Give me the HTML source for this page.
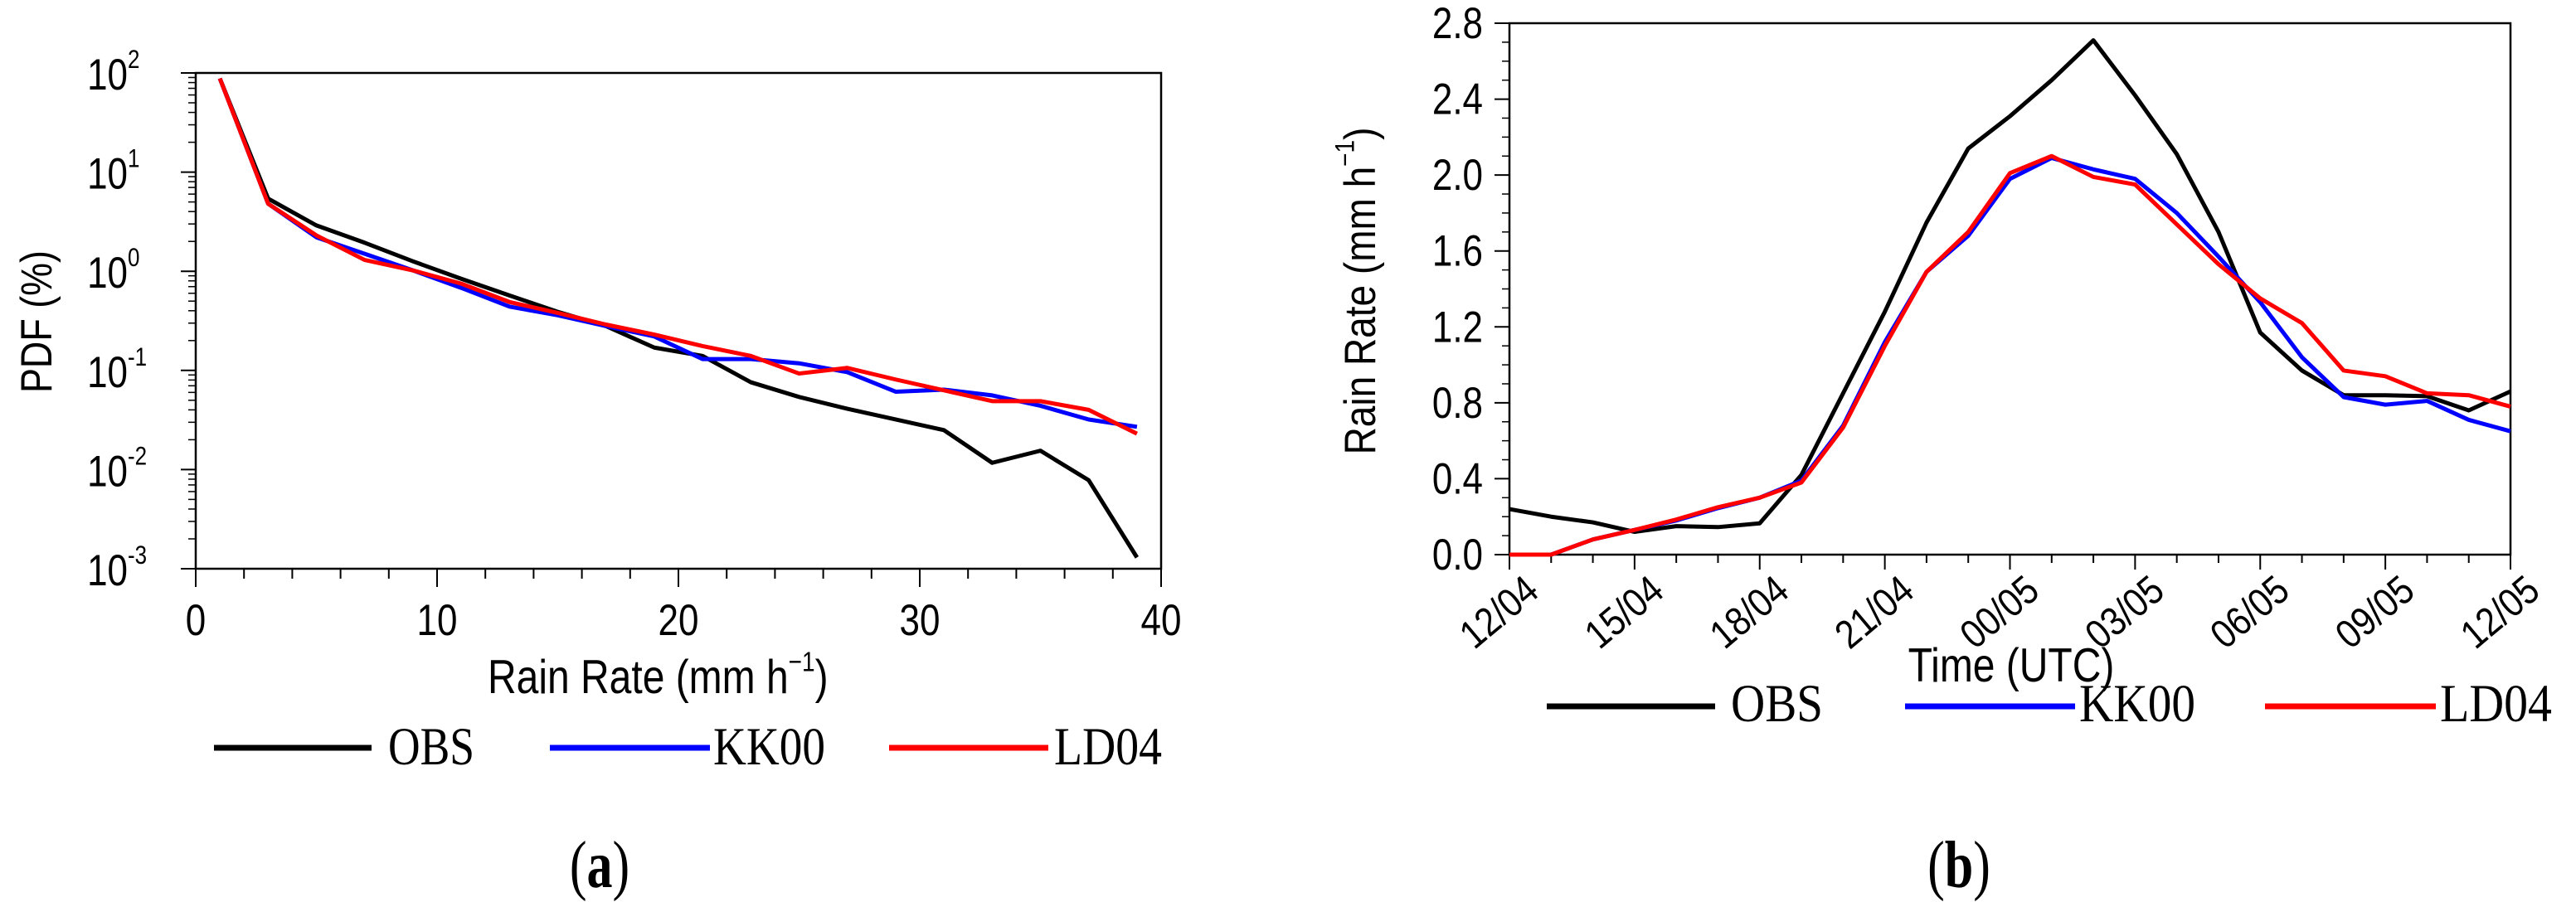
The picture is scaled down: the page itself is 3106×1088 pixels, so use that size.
<!DOCTYPE html>
<html><head><meta charset="utf-8"><style>html,body{margin:0;padding:0;background:#fff}svg{display:block}</style></head>
<body>
<svg id="fig" width="3106" height="1088" viewBox="0 0 3106 1088" xmlns="http://www.w3.org/2000/svg" font-family="Liberation Sans, sans-serif">
<g id="ga"></g>
<g id="gb"></g>
</svg>
<script>
const pdfX = [1,3,5,7,9,11,13,15,17,19,21,23,25,27,29,31,33,35,37,39];
const pdfOBS = [88,5.4,2.9,1.94,1.26,0.84,0.57,0.39,0.28,0.17,0.14,0.076,0.054,0.041,0.032,0.025,0.0117,0.0155,0.0078,0.0013];
const pdfKK00 = [88,4.8,2.2,1.5,1.02,0.68,0.44,0.36,0.28,0.22,0.13,0.13,0.118,0.096,0.061,0.064,0.056,0.044,0.032,0.027];
const pdfLD04 = [88,4.8,2.3,1.3,1.02,0.75,0.49,0.38,0.29,0.23,0.176,0.14,0.093,0.106,0.081,0.063,0.049,0.049,0.040,0.023];
const pdfXTicks = [0,10,20,30,40];
const pdfYExp = [2,1,0,-1,-2,-3];

const tsLabels = ["12/04","15/04","18/04","21/04","00/05","03/05","06/05","09/05","12/05"];
const tsOBS = [0.24,0.2,0.17,0.12,0.15,0.145,0.165,0.42,0.85,1.28,1.75,2.14,2.31,2.5,2.71,2.42,2.11,1.7,1.17,0.97,0.84,0.84,0.835,0.76,0.86];
const tsKK00 = [0,0,0.08,0.13,0.18,0.245,0.3,0.39,0.68,1.12,1.49,1.68,1.98,2.09,2.03,1.98,1.8,1.57,1.33,1.04,0.83,0.79,0.81,0.71,0.65];
const tsLD04 = [0,0,0.08,0.13,0.185,0.25,0.3,0.38,0.67,1.1,1.49,1.7,2.01,2.1,1.99,1.95,1.74,1.53,1.35,1.22,0.97,0.94,0.85,0.84,0.78];
const tsYTicks = [0.0,0.4,0.8,1.2,1.6,2.0,2.4,2.8];

const NS="http://www.w3.org/2000/svg";
function mk(parent,tag,attrs,txt){const e=document.createElementNS(NS,tag);for(const k in attrs)e.setAttribute(k,attrs[k]);if(txt!==undefined)e.textContent=txt;parent.appendChild(e);return e;}
function T(parent,x,y,txt,size,anchor,extra,rot,sy){
  const tr=`translate(${x},${y})`+(rot?` rotate(${rot})`:'')+` scale(1,${sy||1.2})`;
  const a={x:0,y:0,'font-size':size,'text-anchor':anchor||'start',transform:tr};
  for(const k in (extra||{}))a[k]=extra[k];
  return mk(parent,'text',a,txt);
}

// ---------- Panel a ----------
const ga=document.getElementById('ga');
const aL=236,aR=1400,aT=88,aB=686;
const ax=v=>aL+(v-0)/40*(aR-aL);
const ay=v=>aB-(Math.log10(v)+3)/5*(aB-aT);
let fr=mk(ga,'rect',{x:aL,y:aT,width:aR-aL,height:aB-aT,fill:'none',stroke:'#000','stroke-width':2.5});


for(let v=0;v<=40;v+=2){const major=v%10===0;const t=mk(ga,'line',{x1:ax(v),x2:ax(v),y1:aB,y2:aB+(major?22:12),stroke:'#000','stroke-width':2});

}
pdfXTicks.forEach(v=>{const t=T(ga,ax(v),766,String(v),44,'middle');

});
pdfYExp.forEach(e=>{const y=ay(Math.pow(10,e));
const t=mk(ga,'line',{x1:aL-18,x2:aL,y1:y,y2:y,stroke:'#000','stroke-width':2});


if(e>-3){for(let m=2;m<=9;m++){const yy=ay(m*Math.pow(10,e-1));const mt=mk(ga,'line',{x1:aL-9,x2:aL,y1:yy,y2:yy,stroke:'#000','stroke-width':1.5});

}}
const lab=T(ga,aL-82,y+20,'10',44,'end');


const sup=T(ga,aL-82,y-6,String(e),26,'start');


});
let yt=T(ga,62,388,'PDF (%)',46,'middle',{textLength:172,lengthAdjust:'spacingAndGlyphs'},-90,1.15);


let xt=T(ga,588,836,'',48,'start',{});


xt.innerHTML='Rain Rate (mm h<tspan font-size="28" dy="-22">\u22121</tspan><tspan dy="22">)</tspan>';
function lineA(vals,col,name){const pts=pdfX.map((x,i)=>ax(x)+','+ay(vals[i])).join(' ');
const p=mk(ga,'polyline',{points:pts,fill:'none',stroke:col,'stroke-width':5,'stroke-linejoin':'round'});

}
lineA(pdfOBS,'#000','series-obs-a');
lineA(pdfKK00,'#0000ff','series-kk00-a');
lineA(pdfLD04,'#ff0000','series-ld04-a');

[[258,448,468,572,'OBS','#000'],[663,856,860,995,'KK00','#0000ff'],[1072,1264,1271,1401,'LD04','#ff0000']].forEach(d=>{
const l=mk(ga,'line',{x1:d[0],x2:d[1],y1:902,y2:902,stroke:d[5],'stroke-width':7});


const t=T(ga,d[2],922,d[4],50,'start',{'font-family':'Liberation Serif, serif',textLength:d[3]-d[2],lengthAdjust:'spacingAndGlyphs'},0,1.3);

});
let ca=T(ga,723,1070,'',62,'middle',{'font-family':'Liberation Serif, serif'},0,1.3);


ca.innerHTML='(<tspan font-weight="bold">a</tspan>)';

// ---------- Panel b ----------
const gb=document.getElementById('gb');
const bL=1820,bR=3027,bT=28,bB=669;
const bx=i=>bL+i/24*(bR-bL);
const by=v=>bB-v/2.8*(bB-bT);
let fb=mk(gb,'rect',{x:bL,y:bT,width:bR-bL,height:bB-bT,fill:'none',stroke:'#000','stroke-width':2.5});


for(let k=0;k<=28;k++){const v=k/10;const major=k%4===0;const y=by(v);
const t=mk(gb,'line',{x1:bL-(major?18:9),x2:bL,y1:y,y2:y,stroke:'#000','stroke-width':major?2:1.5});

}
tsYTicks.forEach(v=>{const t=T(gb,bL-32,by(v)+18,v.toFixed(1),44,'end');

});
for(let i=0;i<=24;i++){const major=i%3===0;
const t=mk(gb,'line',{x1:bx(i),x2:bx(i),y1:bB,y2:bB+(major?18:10),stroke:'#000','stroke-width':2});

}
tsLabels.forEach((s,k)=>{const x=bx(k*3)+38,y=bB+48;
const t=T(gb,x,y,s,42,'end',{},-40,1.15);

});
let ybt=T(gb,1658,351,'',46,'middle',{},-90,1.15);


ybt.innerHTML='Rain Rate (mm h<tspan font-size="28" dy="-22">\u22121</tspan><tspan dy="22">)</tspan>';
let xbt=T(gb,2425,822,'Time (UTC)',48,'middle');


function lineB(vals,col,name){const pts=vals.map((v,i)=>bx(i)+','+by(v)).join(' ');
const p=mk(gb,'polyline',{points:pts,fill:'none',stroke:col,'stroke-width':5,'stroke-linejoin':'round'});

}
lineB(tsOBS,'#000','series-obs-b');
lineB(tsKK00,'#0000ff','series-kk00-b');
lineB(tsLD04,'#ff0000','series-ld04-b');
[[1865,2068,2087,2198,'OBS','#000'],[2297,2502,2507,2647,'KK00','#0000ff'],[2731,2937,2942,3077,'LD04','#ff0000']].forEach(d=>{
const l=mk(gb,'line',{x1:d[0],x2:d[1],y1:852,y2:852,stroke:d[5],'stroke-width':7});


const t=T(gb,d[2],870,d[4],50,'start',{'font-family':'Liberation Serif, serif',textLength:d[3]-d[2],lengthAdjust:'spacingAndGlyphs'},0,1.3);

});
let cb=T(gb,2362,1070,'',62,'middle',{'font-family':'Liberation Serif, serif'},0,1.3);


cb.innerHTML='(<tspan font-weight="bold">b</tspan>)';
</script>
</body></html>
